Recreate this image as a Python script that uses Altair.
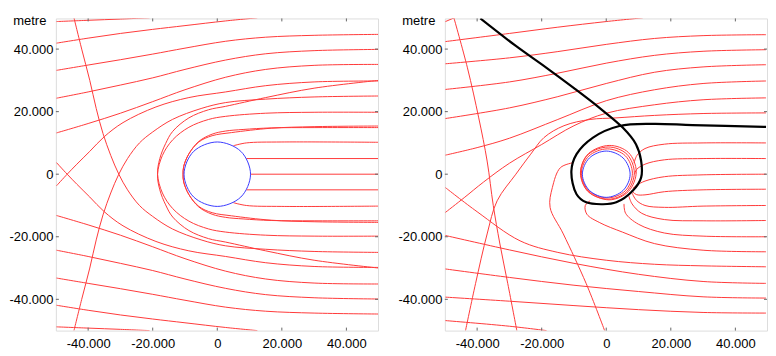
import altair as alt
import pandas as pd

# ---------------- data (units of 1000 m) ----------------
# Left panel: rays coming in from the right, bent round a body of radius ~10.3
P1_CIRCLE = [(10.3, 0), (7.3, 7.3), (0, 10.3), (-7.3, 7.3), (-10.3, 0), (-7.3, -7.3), (0, -10.3), (7.3, -7.3)]
P1_RAYS = {
    "a0": [(50, 0), (10.3, 0)],
    "a5": [(50, 5), (9.0, 5)],
    "am5": [(50, -5), (9.0, -5)],
    "a10": [(50, 10.2), (20, 10.3), (9, 10), (5, 9.1)],
    "am10": [(50, -10.2), (20, -10.3), (9, -10), (5, -9.1)],
    "a15": [(50, 14.9), (30, 14.9), (16.7, 14.8), (8, 14.3), (2.6, 13.8), (-1.6, 12.8), (-5.7, 10.5),
            (-8.8, 6.5), (-10.4, 2.5), (-10.6, 0), (-10.4, -2.5), (-8.8, -6.5), (-5.7, -10.3),
            (-1.6, -12.3), (4.4, -13.3), (16.7, -14.7), (30, -15.2), (50, -15.4)],
    "am15": [(50, -14.9), (30, -14.9), (16.7, -14.8), (8, -14.3), (2.6, -13.8), (-1.6, -12.8), (-5.7, -10.5),
             (-8.8, -6.5), (-10.4, -2.5), (-10.6, 0), (-10.4, 2.5), (-8.8, 6.5), (-5.7, 10.3),
             (-1.6, 12.3), (4.4, 13.3), (16.7, 14.7), (30, 15.2), (50, 15.4)],
    "a20": [(50, 19.8), (30, 19.8), (15, 19.5), (2.6, 18.5), (-2.7, 17.5), (-8.8, 15), (-13.8, 11), (-17, 6),
            (-18.5, 0), (-17.8, -5), (-16, -9.8), (-13.8, -13.7), (-8.8, -18), (-2.7, -20.6), (2.6, -21.7),
            (15, -24.5), (30, -27.5), (50, -30)],
    "am20": [(50, -19.8), (30, -19.8), (15, -19.5), (2.6, -18.5), (-2.7, -17.5), (-8.8, -15), (-13.8, -11), (-17, -6),
             (-18.5, 0), (-17.8, 5), (-16, 9.8), (-13.8, 13.7), (-8.8, 18), (-2.7, 20.6), (2.6, 21.7),
             (15, 24.5), (30, 27.5), (50, 30)],
    "a25": [(50, 25), (30, 24.7), (15, 24), (2.6, 22.9), (-5, 21), (-13.9, 17.5), (-20, 13.5), (-24.1, 10),
            (-27.8, 5), (-30.5, 0), (-33, -6), (-35.4, -13), (-37.5, -21), (-39.5, -30), (-42, -40), (-44.4, -50)],
    "am25": [(50, -25), (30, -24.7), (15, -24), (2.6, -22.9), (-5, -21), (-13.9, -17.5), (-20, -13.5), (-24.1, -10),
             (-27.8, -5), (-30.5, 0), (-33, 6), (-35.4, 13), (-37.5, 21), (-39.5, 30), (-42, 40), (-44.4, 50)],
    "a30": [(50, 29.8), (30, 29.5), (15, 28.3), (2.6, 26.3), (-8.8, 24.5), (-19, 21.5), (-29.2, 16.5),
            (-35, 12), (-39.5, 7.3), (-43.5, 3.2), (-46.5, 0), (-49.8, -3.7)],
    "am30": [(50, -29.8), (30, -29.5), (15, -28.3), (2.6, -26.3), (-8.8, -24.5), (-19, -21.5), (-29.2, -16.5),
             (-35, -12), (-39.5, -7.3), (-43.5, -3.2), (-46.5, 0), (-49.8, 3.7)],
    "a35": [(50, 35.1), (30, 34.8), (15, 33.5), (2.6, 31), (-10, 27), (-20, 23.2), (-30, 19.5), (-40, 16.2), (-49.8, 13.2)],
    "am35": [(50, -35.1), (30, -34.8), (15, -33.5), (2.6, -31), (-10, -27), (-20, -23.2), (-30, -19.5), (-40, -16.2), (-49.8, -13.2)],
    "a40": [(50, 39.9), (30, 39.5), (15, 38.5), (2.6, 36.5), (-10, 33.5), (-20, 30.8), (-30, 28.5), (-40, 26.3), (-49.8, 24.3)],
    "am40": [(50, -39.9), (30, -39.5), (15, -38.5), (2.6, -36.5), (-10, -33.5), (-20, -30.8), (-30, -28.5), (-40, -26.3), (-49.8, -24.3)],
    "a45": [(50, 44.7), (30, 44.4), (15, 43.8), (2.6, 42.5), (-10, 40.3), (-20, 38.4), (-30, 36.6), (-40, 34.9), (-49.8, 33.2)],
    "am45": [(50, -44.7), (30, -44.4), (15, -43.8), (2.6, -42.5), (-10, -40.3), (-20, -38.4), (-30, -36.6), (-40, -34.9), (-49.8, -33.2)],
    "a50": [(12.4, 50), (2.6, 49), (-10, 47.5), (-20, 46.3), (-30, 45), (-40, 43.5), (-49.8, 41.9)],
    "am50": [(12.4, -50), (2.6, -49), (-10, -47.5), (-20, -46.3), (-30, -45), (-40, -43.5), (-49.8, -41.9)],
    "a55": [(-21, 50), (-30, 49.6), (-40, 49.2), (-49.8, 48.8)],
    "am55": [(-21, -50), (-30, -49.6), (-40, -49.2), (-49.8, -48.8)],
}

# Right panel: spinning body of radius ~7.4
P2_CIRCLE = [(7.4, 0), (5.2, 5.2), (0, 7.4), (-5.2, 5.2), (-7.4, 0), (-5.2, -5.2), (0, -7.4), (5.2, -5.2)]
P2_RINGS = {
    "r1": [(8.1, 0.3), (5.9, 5.9), (0.3, 8.1), (-5.4, 5.8), (-7.7, 0.3), (-5.4, -5.3), (0.3, -7.6), (5.9, -5.3)],
    "r2": [(8.7, 0.4), (6.4, 6.4), (0.6, 8.7), (-5.6, 6.3), (-8.0, 0.4), (-5.6, -5.6), (0.6, -8.0), (6.3, -5.6)],
    "r3": [(9.3, 0.8), (6.9, 6.9), (0.9, 9.2), (-5.5, 6.6), (-7.9, 0.7), (-5.6, -5.5), (0.9, -8.2), (6.9, -5.5)],
}
P2_RAYS = {
    "b55": [(-49.8, 48.8), (-46, 50.5)],
    "b50": [(11.3, 50), (0, 48.8), (-15, 47), (-30, 45), (-49.8, 42.4)],
    "b45": [(49.5, 44.6), (30, 44.3), (15, 43.4), (0, 41.5), (-15, 39.2), (-30, 37.2), (-49.8, 35.3)],
    "b40": [(49.5, 39.8), (30, 39.3), (15, 38), (0, 35.5), (-15, 32.3), (-30, 29.5), (-49.8, 27.1)],
    "b35": [(49.5, 35), (30, 34.3), (15, 32.6), (0, 29), (-15, 24.8), (-30, 21.2), (-49.8, 17.8)],
    "b30": [(49.5, 29.8), (30, 29), (15, 27), (0, 23.5), (-15, 17.5), (-30, 11.5), (-40, 8.5), (-49.8, 6.1)],
    "b25": [(49.5, 24.4), (30, 23.8), (15, 22.2), (0, 19.5), (-10, 15.5), (-20, 9.5), (-30, 3.5), (-38, -2.5),
            (-44, -7.5), (-49.8, -12.2)],
    "b20": [(49.5, 19.6), (30, 19.4), (15, 18.8), (3, 18), (-5, 17.5), (-13.1, 15.5), (-19.3, 11.7), (-23.4, 6.4),
            (-28, 0), (-33.8, -8.5), (-36.9, -19.1), (-40.5, -35), (-43.6, -50)],
    "b10": [(49.5, 10), (30, 10), (18, 9.6), (12, 8.2), (9.5, 6), (8.6, 3.5)],
    "b5": [(49.5, 5), (30, 5), (18, 4.6), (12, 3.2), (9.4, 1.5), (8.8, 0)],
    "b0": [(49.5, 0), (30, -0.2), (18, -0.8), (12, -2.2), (9.5, -3.5), (8.2, -4.5)],
    "bm5": [(49.5, -4.8), (30, -5), (18, -5.6), (12, -6.6), (9.3, -6.5), (7.8, -5.2)],
    "bm10": [(49.5, -10), (30, -10.2), (18, -10.6), (12, -10), (9.3, -8.3), (8, -6)],
    "bm15": [(49.5, -14.8), (30, -14.9), (18, -14.5), (11, -12.5), (8, -9.5), (7, -7)],
    "bm20": [(49.5, -20), (30, -19.8), (18, -18.8), (10, -16), (6, -12.5), (5.5, -9.5)],
    "bm25": [(49.5, -24.8), (30, -24.3), (15, -22.2), (5, -18.5), (-2, -15.5), (-6, -12.8), (-6.5, -10), (-5, -8.5)],
    "bm30": [(49.5, -29.6), (30, -29.3), (15, -28.8), (0, -27.5), (-15, -25), (-26.7, -21.3), (-40, -12), (-49.8, -4.3)],
    "bm35": [(49.5, -34.9), (30, -34.3), (10, -32), (-10, -28.5), (-30, -24.2), (-49.8, -19.6)],
    "bm40": [(49.5, -39.6), (30, -39.2), (10, -37.5), (-10, -35.5), (-30, -33), (-49.8, -30.3)],
    "bm45": [(49.5, -44.4), (30, -44.2), (10, -43.3), (-10, -42), (-30, -40.6), (-49.8, -39.3)],
    "bm50": [(-18.5, -50), (-30, -48.6), (-49.8, -46.8)],
    "hook": [(-10.1, 3.7), (-14.2, 2.1), (-16.7, -4.3), (-17.4, -10.6), (-13.3, -19.1), (-6.2, -35), (-0.5, -50)],
    "steep": [(-27.7, -50), (-30.5, -35), (-33, -22), (-35, -10), (-36.9, 4.2), (-39.5, 18), (-43, 34), (-47.2, 50)],
}
P2_BLACK = [(49.5, 15.1), (26.7, 15.7), (14.4, 16.1), (4.1, 15.4), (-4.1, 11.7), (-9.2, 6.4), (-10.8, 1),
            (-9.2, -6.4), (-6.2, -9), (-1, -9.6), (3.1, -9), (8.2, -5.3), (10.8, -1.1), (10.8, 4.3), (9.2, 9.6),
            (5.1, 14.9), (-2.1, 21.2), (-10, 27.5), (-18.5, 34), (-28, 41), (-39, 49.8)]

TICKS = [-40, -20, 0, 20, 40]
DOMAIN = [-50, 49.8]
UNIT = 1000  # axis is in metres

W, H = 323, 313
RED = "#ff3a3a"


def table(groups):
    rows = []
    for name, pts in groups.items():
        for i, (x, y) in enumerate(pts):
            rows.append({"ray": name, "i": i, "x": x * UNIT, "y": y * UNIT})
    return pd.DataFrame(rows)


label_expr = "replace(replace(format(datum.value, ','), ',', '.'), '\u2212', '-')"
dom = [d * UNIT for d in DOMAIN]
tick_vals = [t * UNIT for t in TICKS]

XS = alt.Scale(domain=dom, nice=False, zero=False)
YS = alt.Scale(domain=dom, nice=False, zero=False)
XAXIS = alt.Axis(values=tick_vals, labelExpr=label_expr, ticks=False, grid=False, domain=False,
                 labelPadding=7, labelFontSize=13, labelFont="Liberation Sans", labelColor="#000",
                 title=None, labelFlush=False)
YAXIS = alt.Axis(values=tick_vals, labelExpr=label_expr, ticks=False, grid=False, domain=False,
                 labelPadding=3, labelFontSize=13, labelFont="Liberation Sans", labelColor="#000",
                 title="metre", titleAngle=0, titleAlign="right", titleBaseline="alphabetic",
                 titleX=-10, titleY=6, titleFontSize=13, titleFontWeight="normal",
                 titleFont="Liberation Sans", titleColor="#000", labelFlush=False)


def X():
    return alt.X("x:Q", scale=XS, axis=XAXIS)


def Y():
    return alt.Y("y:Q", scale=YS, axis=YAXIS)


def panel(rays, rings, circle, black):
    layers = [
        alt.Chart(table(rays)).mark_line(color=RED, strokeWidth=1, interpolate="catmull-rom", clip=True).encode(
            x=X(), y=Y(), detail="ray:N", order="i:Q"),
    ]
    if rings:
        layers.append(alt.Chart(table(rings)).mark_line(
            color=RED, strokeWidth=1, interpolate="cardinal-closed", clip=True).encode(
            x=X(), y=Y(), detail="ray:N", order="i:Q"))
    layers.append(alt.Chart(table({"c": circle})).mark_line(
        color="#3b3bff", strokeWidth=1, interpolate="cardinal-closed", clip=True).encode(
        x=X(), y=Y(), detail="ray:N", order="i:Q"))
    if black:
        layers.append(alt.Chart(table({"k": black})).mark_line(
            color="#000", strokeWidth=2.2, interpolate="catmull-rom", clip=True).encode(
            x=X(), y=Y(), order="i:Q"))
    tdf = pd.DataFrame({"x": tick_vals, "y": tick_vals})
    layers += [
        alt.Chart(tdf).mark_rule(color="#666", strokeWidth=1).encode(
            x=X(), y=alt.value(H), y2=alt.value(H - 3)),
        alt.Chart(tdf).mark_rule(color="#666", strokeWidth=1).encode(
            x=X(), y=alt.value(0), y2=alt.value(3)),
        alt.Chart(tdf).mark_rule(color="#666", strokeWidth=1).encode(
            y=Y(), x=alt.value(0), x2=alt.value(3)),
        alt.Chart(tdf).mark_rule(color="#666", strokeWidth=1).encode(
            y=Y(), x=alt.value(W), x2=alt.value(W - 3)),
    ]
    return alt.layer(*layers).properties(width=W, height=H)


left = panel(P1_RAYS, None, P1_CIRCLE, None)
right = panel(P2_RAYS, P2_RINGS, P2_CIRCLE, P2_BLACK)

chart = alt.hconcat(left, right, spacing=18).properties(
    padding={"left": 0, "top": 5, "right": 0, "bottom": 0}
).configure_view(stroke="#6e6e6e", strokeWidth=1).configure(background="white")

chart.save("out.html", embed_options={"renderer": "svg", "actions": False})
